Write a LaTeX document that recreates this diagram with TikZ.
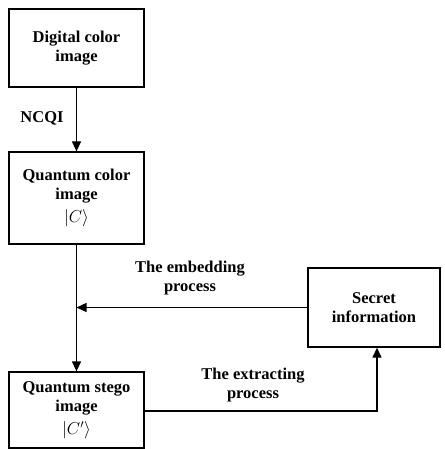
\documentclass[tikz,border=0pt]{standalone}
\usepackage{fontspec}
\setmainfont{Liberation Serif}
\usetikzlibrary{arrows.meta}
\begin{document}
\begin{tikzpicture}[x=1pt,y=-1pt,
  box/.style={draw,line width=1.3pt,inner sep=0pt,align=center,font=\bfseries\fontsize{16.5}{19}\selectfont},
  lbl/.style={align=center,font=\bfseries\fontsize{16.5}{19}\selectfont},
  conn/.style={line width=1.3pt},
  arr/.style={conn,-{Triangle[length=10pt,width=9pt]}}]
\useasboundingbox (0,0) rectangle (444,449);
\node[box,minimum width=135,minimum height=92] (qci) at (76.5,198) {Quantum color\\image\\[4pt]$\Bigl|C\Bigr\rangle$};
\node[box,minimum width=135,minimum height=78] (dig) at (76.5,48) {Digital color\\image};
\node[box,minimum width=135,minimum height=76] (qsi) at (76.5,410) {Quantum stego\\image\\[4pt]$\Bigl|C'\Bigr\rangle$};
\node[box,minimum width=132,minimum height=79] (sec) at (374,307.5) {Secret\\information};
\coordinate (m) at (76.5,307.5);
\coordinate (c) at (377,411);
\draw[arr] (dig) -- (qci);
\draw[arr] (qci) -- (qsi);
\draw[arr] (sec.west) -- (m);
\draw[arr] (qsi.east |- c) -- (c) -- (c |- sec.south);
\node[lbl] (ncqi) at (42,118) {NCQI};
\node[lbl] (emb) at (190,278) {The embedding\\process};
\node[lbl] (ext) at (253,385) {The extracting\\process};
\end{tikzpicture}
\end{document}
